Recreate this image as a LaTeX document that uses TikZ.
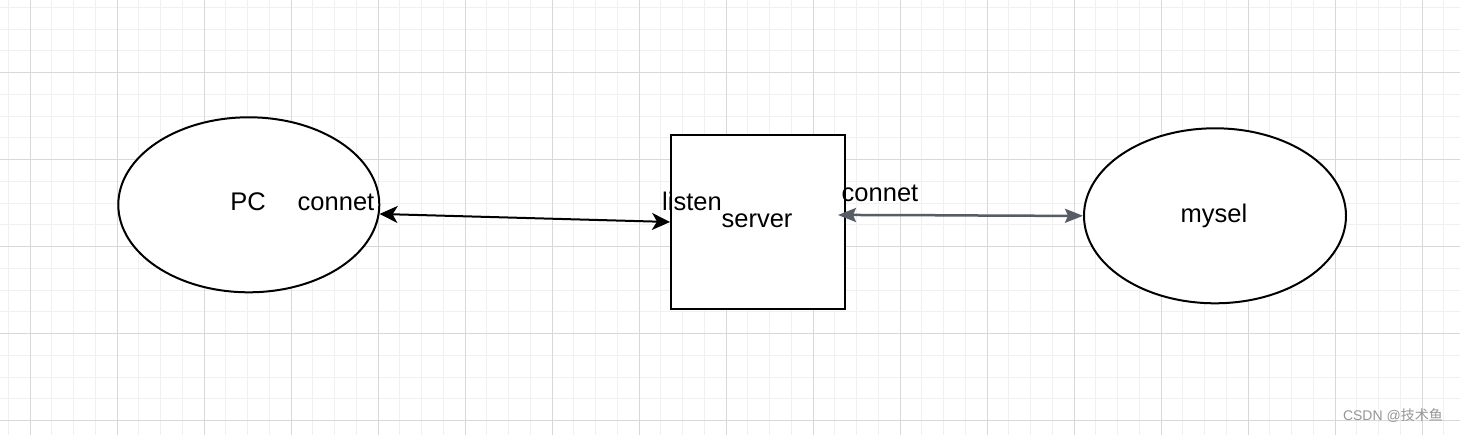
\documentclass[tikz,border=0pt]{standalone}
\usepackage{fontspec}
\setmainfont{Liberation Sans}
\newfontfamily\cjk{Noto Sans CJK SC}
\usetikzlibrary{arrows.meta,shapes.geometric}
\definecolor{minorgrid}{RGB}{240,240,240}
\definecolor{majorgrid}{RGB}{216,216,216}
\definecolor{linkgray}{RGB}{87,92,102}
\definecolor{wmgray}{RGB}{150,150,150}
\begin{document}
\begin{tikzpicture}[x=1pt,y=-1pt,
  shapeline/.style={draw=black, line width=2pt, inner sep=0pt},
  txt/.style={font=\fontsize{25.5}{30}\selectfont, inner sep=0pt, anchor=base},
  biarrow/.style={line width=2pt, {Stealth[length=18pt,width=17pt,inset=5pt]}-{Stealth[length=18pt,width=17pt,inset=5pt]}},
  grayarrow/.style={line width=2.5pt, {Stealth[length=18pt,width=14pt,inset=3pt]}-{Stealth[length=18pt,width=14pt,inset=3pt]}},
  minorline/.style={minorgrid, line width=1pt},
  majorline/.style={majorgrid, line width=1pt}]
\fill[white] (0,0) rectangle (1460,435);
\useasboundingbox (0,0) rectangle (1460,435);
% grid
\foreach \i in {0,...,66} \draw[minorline] ({8.3+21.75*\i},0) -- ++(0,435);
\foreach \i in {0,...,19} \draw[minorline] (0,{7.5+21.75*\i}) -- ++(1460,0);
\foreach \i in {0,...,16} \draw[majorline] ({30.3+87*\i},0) -- ++(0,435);
\foreach \i in {0,...,4} \draw[majorline] (0,{73+87*\i}) -- ++(1460,0);
% shapes
\node[shapeline, ellipse, fill=white, minimum width=261pt, minimum height=175pt] (pc) at (248.8,204.8) {};
\node[shapeline, rectangle, fill=white, minimum width=174pt, minimum height=174pt] (srv) at (758,222) {};
\node[shapeline, ellipse, fill=white, minimum width=262pt, minimum height=175pt] (mysel) at (1215,215.8) {};
% texts
\node[txt] (pct) at (248,211) {PC};
\node[txt] (c1) at (336,211) {connet};
\node[txt] (lis) at (692,211) {listen};
\node[txt] (srvt) at (757,228) {server};
\node[txt] (c2) at (880,201.5) {connet};
\node[txt] (myt) at (1214,223) {mysel};
% connectors
\draw[biarrow] (pc.-4.4) -- (srv.west);
\draw[grayarrow, linkgray] ([xshift=-8pt,yshift=7pt]srv.east) to[out=0,in=180] (mysel.west);
% watermark
\node[anchor=base east, font=\fontsize{14}{16}\selectfont, text=wmgray, inner sep=0pt] (wm) at (1443,421) {CSDN @{\cjk 技术鱼}};
\end{tikzpicture}
\end{document}
